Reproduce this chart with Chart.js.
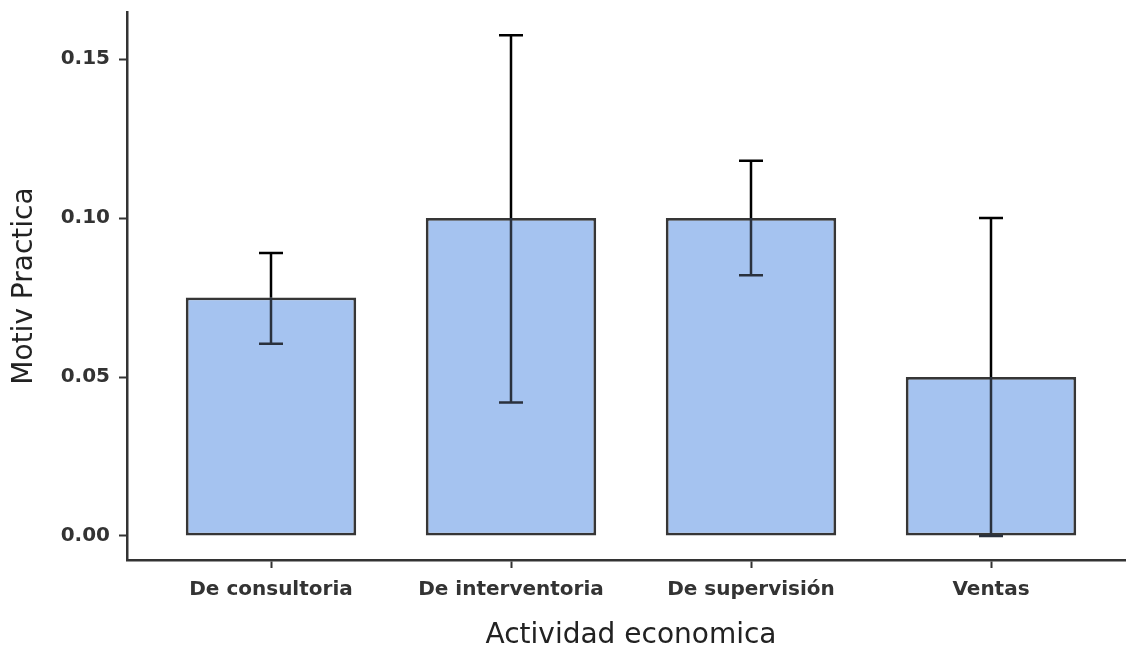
<!DOCTYPE html>
<html lang="es">
<head>
<meta charset="UTF-8">
<title>Motiv Practica por actividad</title>
<style>
  html, body { margin: 0; padding: 0; background: #fff; overflow: hidden; }
  .wrap { position: relative; width: 1135px; height: 655px; }
</style>
<script src="https://cdn.jsdelivr.net/npm/chart.js"></script>
</head>
<body>
<div class="wrap"><canvas id="chart"></canvas></div>
<script>
// data
const categories = ['De consultoria', 'De interventoria', 'De supervisión', 'Ventas'];
const means = [0.075, 0.100, 0.100, 0.050];
const errLow = [0.0605, 0.042, 0.082, 0.000];
const errHigh = [0.0890, 0.1575, 0.118, 0.100];
const yTicks = [0.00, 0.05, 0.10, 0.15];

const AXIS = '#333333';

// error bars: black above the bar, darker grey where they cross the bar
const errorBars = {
  id: 'errorBars',
  afterDatasetsDraw(chart) {
    const { ctx, scales: { x, y } } = chart;
    const cap = 12;
    ctx.save();
    ctx.lineWidth = 2.5;
    ctx.lineCap = 'butt';
    means.forEach((m, i) => {
      const px = x.getPixelForValue(i + 1);
      const yLo = y.getPixelForValue(errLow[i]);
      const yHi = y.getPixelForValue(errHigh[i]);
      const yBar = y.getPixelForValue(m);
      // inside bar
      ctx.strokeStyle = '#2a313d';
      ctx.beginPath();
      ctx.moveTo(px, Math.max(yHi, yBar));
      ctx.lineTo(px, yLo);
      ctx.moveTo(px - cap, yLo);
      ctx.lineTo(px + cap, yLo);
      ctx.stroke();
      // above bar
      ctx.strokeStyle = '#000';
      ctx.beginPath();
      if (yHi < yBar) {
        ctx.moveTo(px, yBar);
        ctx.lineTo(px, yHi);
      }
      ctx.moveTo(px - cap, yHi);
      ctx.lineTo(px + cap, yHi);
      ctx.stroke();
    });
    ctx.restore();
  }
};

new Chart(document.getElementById('chart'), {
  type: 'bar',
  data: {
    datasets: [{
      data: means.map((v, i) => ({ x: i + 1, y: v })),
      backgroundColor: '#a5c3f0',
      borderColor: '#363636',
      borderWidth: 2.8,
      borderSkipped: false,
      categoryPercentage: 1,
      barPercentage: 0.71
    }]
  },
  options: {
    responsive: true,
    maintainAspectRatio: false,
    animation: false,
    layout: { padding: { top: 12, right: 0, bottom: 0, left: 0 } },
    plugins: { legend: { display: false }, tooltip: { enabled: false } },
    scales: {
      x: {
        type: 'linear',
        offset: false,
        min: 0.4,
        max: 4.6,
        afterBuildTicks: s => { s.ticks = categories.map((c, i) => ({ value: i + 1 })); },
        afterFit: s => { s.height = 95; s.paddingLeft = 0; s.paddingRight = 0; },
        ticks: {
          autoSkip: false,
          maxRotation: 0,
          padding: 10,
          color: AXIS,
          font: { family: 'DejaVu Sans', size: 20, weight: 'bold' },
          callback: v => categories[v - 1]
        },
        grid: { offset: false, drawOnChartArea: false, drawTicks: true, tickLength: 8, tickColor: AXIS, tickWidth: 2 },
        border: { display: true, color: AXIS, width: 2.5 },
        title: {
          display: true,
          text: 'Actividad economica',
          color: '#222',
          font: { family: 'DejaVu Sans', size: 28 },
          padding: { top: 0, bottom: 2 }
        }
      },
      y: {
        min: -0.00755,
        max: 0.1648,
        afterBuildTicks: s => { s.ticks = yTicks.map(v => ({ value: v })); },
        afterFit: s => { s.width = 127; s.paddingTop = 0; s.paddingBottom = 0; },
        ticks: {
          padding: 9,
          color: AXIS,
          font: { family: 'DejaVu Sans', size: 20, weight: 'bold' },
          callback: v => v.toFixed(2)
        },
        grid: { drawOnChartArea: false, drawTicks: true, tickLength: 8, tickColor: AXIS, tickWidth: 2 },
        border: { display: true, color: AXIS, width: 2.5 },
        title: {
          display: true,
          text: 'Motiv Practica',
          color: '#222',
          font: { family: 'DejaVu Sans', size: 28 },
          padding: { top: 8, bottom: 0 }
        }
      }
    }
  },
  plugins: [errorBars]
});
</script>
</body>
</html>
